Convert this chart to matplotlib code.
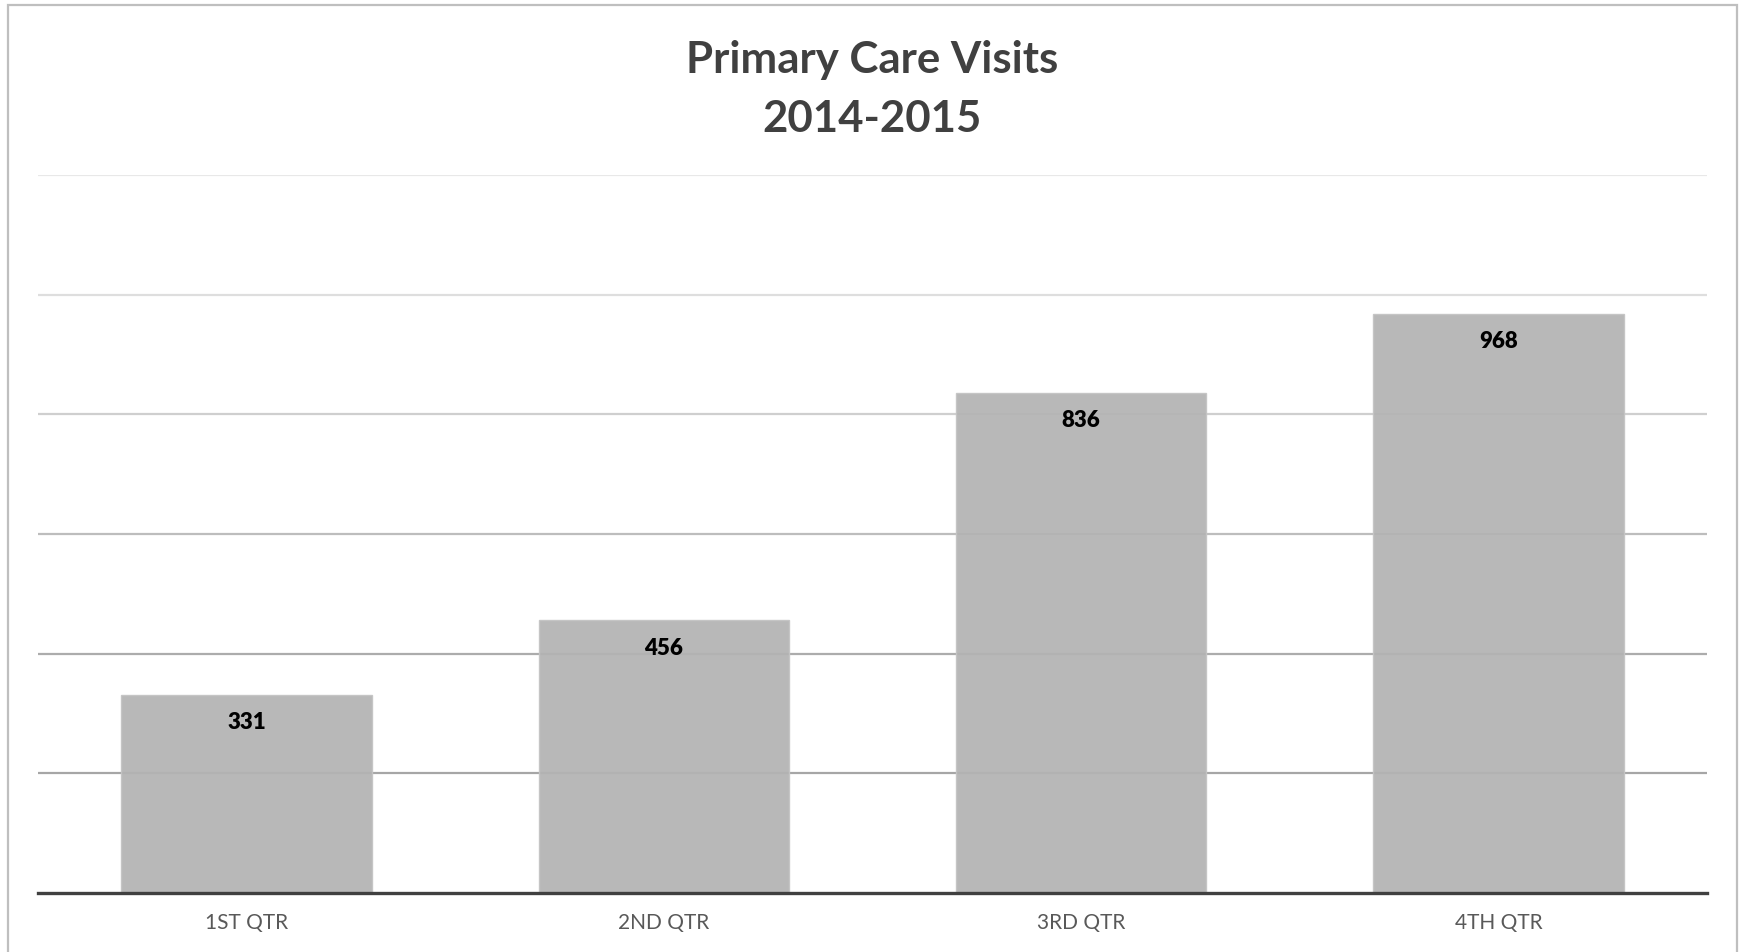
import matplotlib
matplotlib.use("Agg")
import matplotlib.pyplot as plt
from matplotlib.patches import Rectangle

quarters = ["1ST QTR", "2ND QTR", "3RD QTR", "4TH QTR"]
visits = [331, 456, 836, 968]
grid_vals = [200, 400, 600, 800, 1000, 1200]
grid_colors = ["#a6a6a6", "#acacac", "#bdbdbd", "#cfcfcf", "#dedede", "#e8e8e8"]

plt.rcParams['font.family'] = ['Lato', 'DejaVu Sans']

fig = plt.figure(figsize=(17.45, 9.53), dpi=100)
ax = fig.add_axes([38/1745, 1 - 894/953, (1707-38)/1745, (894-176)/953])

x = range(len(quarters))
bars = ax.bar(x, visits, width=0.6, color="#b3b3b3", edgecolor="#c4c4c4",
              linewidth=1, zorder=2, alpha=0.93)
for g, c in zip(grid_vals, grid_colors):
    ax.axhline(g, color=c, linewidth=1.6, zorder=1)

for b, v in zip(bars, visits):
    ax.annotate(str(v), (b.get_x() + b.get_width()/2, v), xytext=(0, -27),
                textcoords="offset pixels", ha="center", va="center",
                fontsize=16, fontweight="heavy", color="black")

ax.set_xlim(-0.5, 3.5)
ax.set_ylim(0, 1200)
ax.set_xticks(list(x))
ax.set_xticklabels(quarters, fontsize=15, color="#595959")
ax.tick_params(axis="x", length=0, pad=14)
ax.set_yticks([])
for s in ["top", "right", "left"]:
    ax.spines[s].set_visible(False)
ax.spines["bottom"].set_color("#404040")
ax.spines["bottom"].set_linewidth(2.4)
ax.spines["bottom"].set_zorder(3)

fig.text(0.5, 1 - 60/953, "Primary Care Visits", ha="center", va="center",
         fontsize=31.5, fontweight="bold", color="#404040")
fig.text(0.5, 1 - 119/953, "2014-2015", ha="center", va="center",
         fontsize=31.5, fontweight="bold", color="#404040")

# chart border
fig.patches.append(Rectangle((8/1745, -0.01), (1737-8)/1745, 1 - 6/953 + 0.01,
                             transform=fig.transFigure, fill=False,
                             edgecolor="#bfbfbf", linewidth=1.6))

fig.savefig("out.png", dpi=100)
